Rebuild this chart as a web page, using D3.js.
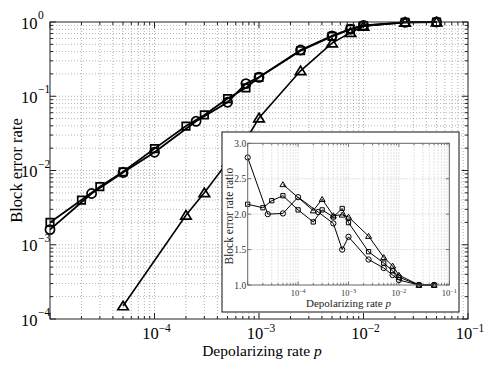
<!DOCTYPE html>
<html><head><meta charset="utf-8">
<script src="https://cdn.jsdelivr.net/npm/d3@7"></script>
<style>body{margin:0;background:#fff}svg{display:block}</style>
</head><body>
<svg id="c" width="491" height="365"></svg>
<script>
// ---- data ----
const pSquare   = [1e-5,2e-5,3e-5,5e-5,1e-4,2e-4,3e-4,5e-4,7.5e-4,1e-3,2.5e-3,5e-3,7.5e-3,1e-2,2.5e-2,5e-2];
const berSquare = [2.0e-3,4.0e-3,6.05e-3,9.6e-3,1.97e-2,3.97e-2,5.6e-2,9.3e-2,0.13,0.18,0.41,0.64,0.80,0.89,0.99,1.0];
const pCircle   = [1e-5,2.5e-5,5e-5,1e-4,2.5e-4,5e-4,7.5e-4,1e-3,2.5e-3,5e-3,7.5e-3,1e-2,2.5e-2,5e-2];
const berCircle = [1.6e-3,4.9e-3,9.4e-3,1.76e-2,4.6e-2,8.3e-2,0.148,0.18,0.42,0.65,0.80,0.90,0.99,1.0];
const pTriangle   = [5e-5,2e-4,3e-4,5e-4,7.5e-4,1e-3,2.5e-3,5e-3,7.5e-3,1e-2,2.5e-2,5e-2];
const berTriangle = [1.5e-4,2.5e-3,5.0e-3,1.3e-2,2.6e-2,5.1e-2,0.22,0.52,0.72,0.875,0.99,1.0];
// inset: block error rate ratio
const ratioCircle   = [2.80,2.00,2.01,2.24,2.03,1.87,1.50,1.68,1.36,1.24,1.14,1.07,1.00,1.00];
const ratioSquare   = [2.14,2.09,2.19,2.26,2.06,1.89,2.06,1.96,2.08,1.88,1.47,1.31,1.20,1.11,1.00,1.00];
const ratioTriangle = [2.42,2.05,2.21,1.98,1.99,1.96,1.69,1.39,1.27,1.14,1.00,1.00];
const xMajorExps = [-4,-3,-2,-1];
const yMajorExps = [-4,-3,-2,-1,0];
const insetYTicks = [1.0,1.5,2.0,2.5,3.0];
const insetXExps = [-4,-3,-2,-1];

const svg = d3.select("#c");
const FONT = "Liberation Serif, Times New Roman, serif";

// ---- main geometry ----
const M = {l:50, r:468, t:22, b:319};
const x = d3.scaleLog().domain([1e-5,1e-1]).range([M.l, M.r]);
const y = d3.scaleLog().domain([1e-4,1]).range([M.b, M.t]);

const minorX = x.ticks();
const minorY = y.ticks();
const isMajor = v => Math.abs(Math.log10(v)-Math.round(Math.log10(v)))<1e-6;

const grid = svg.append("g").attr("stroke","#a0a0a0").attr("stroke-width",0.8).attr("stroke-dasharray","1,2");
minorX.forEach(v=>{ if(v>1e-5*1.0001 && v<1e-1*0.9999) grid.append("line").attr("x1",x(v)).attr("x2",x(v)).attr("y1",M.t).attr("y2",M.b);});
minorY.forEach(v=>{ if(v>1e-4*1.0001 && v<0.9999) grid.append("line").attr("y1",y(v)).attr("y2",y(v)).attr("x1",M.l).attr("x2",M.r);});

const tk = svg.append("g").attr("stroke","#222").attr("stroke-width",1);
minorX.forEach(v=>{
  const L = isMajor(v)?6:3;
  tk.append("line").attr("x1",x(v)).attr("x2",x(v)).attr("y1",M.b).attr("y2",M.b-L);
  tk.append("line").attr("x1",x(v)).attr("x2",x(v)).attr("y1",M.t).attr("y2",M.t+L);
});
minorY.forEach(v=>{
  const L = isMajor(v)?6:3;
  tk.append("line").attr("y1",y(v)).attr("y2",y(v)).attr("x1",M.l).attr("x2",M.l+L);
  tk.append("line").attr("y1",y(v)).attr("y2",y(v)).attr("x1",M.r).attr("x2",M.r-L);
});

function tri(w,h){ return `M0,${-h*0.55}L${w/2},${h*0.45}L${-w/2},${h*0.45}Z`; }
const symCircle = d3.symbol().type(d3.symbolCircle).size(66)();
const symSquare = d3.symbol().type(d3.symbolSquare).size(56)();
const symTri = tri(10.5,8.5);
function series(g, xs, ys, sx, sy, path, lw, mw){
  const pts = xs.map((v,i)=>[v, ys[i]]);
  g.append("path").datum(pts).attr("fill","none").attr("stroke","#000").attr("stroke-width",lw)
    .attr("d", d3.line().x(d=>sx(d[0])).y(d=>sy(d[1])));
  g.selectAll(null).data(pts).enter().append("path").attr("d",path)
    .attr("transform",d=>`translate(${sx(d[0])},${sy(d[1])})`)
    .attr("fill","none").attr("stroke","#000").attr("stroke-width",mw);
}
const sg = svg.append("g");
series(sg, pTriangle, berTriangle, x, y, symTri, 1.6, 1.7);
series(sg, pSquare, berSquare, x, y, symSquare, 1.8, 1.7);
series(sg, pCircle, berCircle, x, y, symCircle, 1.8, 1.7);

svg.append("rect").attr("x",M.l).attr("y",M.t).attr("width",M.r-M.l).attr("height",M.b-M.t)
  .attr("fill","none").attr("stroke","#222").attr("stroke-width",1);

function expTxt(e){ return e===0?"0":"\u2212"+(-e); }
xMajorExps.forEach(e=>{
  const t = svg.append("text").attr("x",x(Math.pow(10,e))+2).attr("y",339)
    .attr("text-anchor","middle").attr("font-family",FONT).attr("font-size",16.5).attr("fill","#000");
  t.append("tspan").text("10");
  t.append("tspan").attr("dy",-7.5).attr("font-size",11.5).text(expTxt(e));
});
yMajorExps.forEach(e=>{
  const yy = y(Math.pow(10,e));
  svg.append("text").attr("x",37.5).attr("y",yy+6.5).attr("text-anchor","end")
    .attr("font-family",FONT).attr("font-size",16.5).text("10");
  svg.append("text").attr("x",38).attr("y",yy-3).attr("text-anchor","start")
    .attr("font-family",FONT).attr("font-size",11.5).text(expTxt(e));
});
const xl = svg.append("text").attr("x",262).attr("y",356).attr("text-anchor","middle")
  .attr("font-family",FONT).attr("font-size",15.5);
xl.append("tspan").text("Depolarizing rate ");
xl.append("tspan").attr("font-style","italic").text("p");
svg.append("text").attr("transform",`translate(22,${(M.t+M.b)/2}) rotate(-90)`)
  .attr("text-anchor","middle").attr("font-family",FONT).attr("font-size",16.5).text("Block error rate");

// ---- inset ----
const IB = {x:222, y:132, w:237, h:180};
svg.append("rect").attr("x",IB.x).attr("y",IB.y).attr("width",IB.w).attr("height",IB.h)
  .attr("fill","#fff").attr("stroke","#111").attr("stroke-width",1);
const I = {l:247.7, r:449.3, t:143.3, b:285};
const ix = d3.scaleLog().domain([1e-5,1e-1]).range([I.l, I.r]);
const iy = d3.scaleLinear().domain([1,3]).range([I.b, I.t]);
const ig = svg.append("g").attr("stroke","#cfcfcf").attr("stroke-width",0.8).attr("stroke-dasharray","1.5,1.5");
ix.ticks().forEach(v=>{ if(v>1e-5*1.0001 && v<1e-1*0.9999) ig.append("line").attr("x1",ix(v)).attr("x2",ix(v)).attr("y1",I.t).attr("y2",I.b);});
insetYTicks.forEach(v=>{ if(v>1 && v<3) ig.append("line").attr("y1",iy(v)).attr("y2",iy(v)).attr("x1",I.l).attr("x2",I.r);});
const itk = svg.append("g").attr("stroke","#555").attr("stroke-width",0.8);
ix.ticks().forEach(v=>{
  const L = isMajor(v)?3.5:2;
  itk.append("line").attr("x1",ix(v)).attr("x2",ix(v)).attr("y1",I.b).attr("y2",I.b-L);
  itk.append("line").attr("x1",ix(v)).attr("x2",ix(v)).attr("y1",I.t).attr("y2",I.t+L);
});
insetYTicks.forEach(v=>{
  itk.append("line").attr("y1",iy(v)).attr("y2",iy(v)).attr("x1",I.l).attr("x2",I.l+3.5);
  itk.append("line").attr("y1",iy(v)).attr("y2",iy(v)).attr("x1",I.r).attr("x2",I.r-3.5);
});
const isg = svg.append("g");
const iCircle = d3.symbol().type(d3.symbolCircle).size(22)();
const iSquare = d3.symbol().type(d3.symbolSquare).size(18)();
const iTri = tri(6,5);
series(isg, pCircle, ratioCircle, ix, iy, iCircle, 1, 1);
series(isg, pSquare, ratioSquare, ix, iy, iSquare, 1, 1);
series(isg, pTriangle, ratioTriangle, ix, iy, iTri, 1, 1);
svg.append("rect").attr("x",I.l).attr("y",I.t).attr("width",I.r-I.l).attr("height",I.b-I.t)
  .attr("fill","none").attr("stroke","#666").attr("stroke-width",1);
insetYTicks.forEach(v=>{
  svg.append("text").attr("x",I.l-1.5).attr("y",iy(v)+3.5).attr("text-anchor","end")
    .attr("font-family",FONT).attr("font-size",9.5).attr("fill","#333").text(v.toFixed(1));
});
insetXExps.forEach(e=>{
  const t = svg.append("text").attr("x",ix(Math.pow(10,e))).attr("y",296)
    .attr("text-anchor","middle").attr("font-family",FONT).attr("font-size",8.5).attr("fill","#333");
  t.append("tspan").text("10");
  t.append("tspan").attr("dy",-3.5).attr("font-size",6).text(expTxt(e));
});
const ixl = svg.append("text").attr("x",(I.l+I.r)/2).attr("y",307).attr("text-anchor","middle")
  .attr("font-family",FONT).attr("font-size",11).attr("fill","#222");
ixl.append("tspan").text("Depolarizing rate ");
ixl.append("tspan").attr("font-style","italic").text("p");
svg.append("text").attr("transform",`translate(233,${(I.t+I.b)/2+2}) rotate(-90)`)
  .attr("text-anchor","middle").attr("font-family",FONT).attr("font-size",11.5).attr("fill","#222")
  .text("Block error rate ratio");
</script>
</body></html>
